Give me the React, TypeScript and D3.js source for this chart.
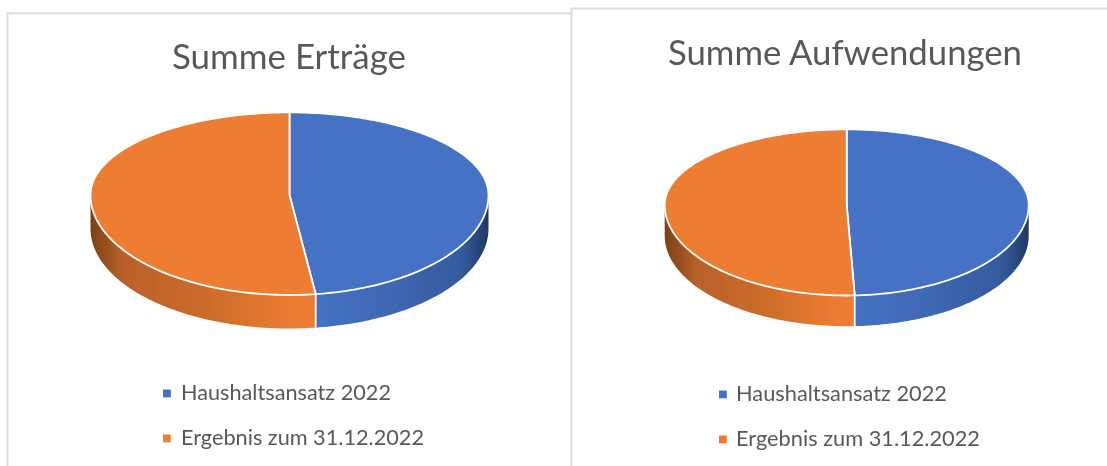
import React from "react";
import * as d3 from "d3";

const seriesLabels = ["Haushaltsansatz 2022", "Ergebnis zum 31.12.2022"];
const ertraegeValues = [47.9, 52.1];
const aufwendungenValues = [49.3, 50.7];
const titles = ["Summe Erträge", "Summe Aufwendungen"];

const BLUE = "#4472c4";
const ORANGE = "#ed7d31";
const TEXT = "#595959";
const FONT = "Lato, 'Open Sans', sans-serif";

type PieCfg = {
  id: string; title: string; values: number[];
  cx: number; cy: number; rx: number; ryTop: number; ryBottom: number; depth: number;
  titleX: number; titleY: number; titleW: number;
  markerX: number; textX: number; legendY: number[]; legendW: number[];
};

const panels: PieCfg[] = [
  { id: "a", title: titles[0], values: ertraegeValues, cx: 289.5, cy: 195, rx: 199, ryTop: 82.6, ryBottom: 100, depth: 33.5,
    titleX: 172, titleY: 69, titleW: 234, markerX: 163, textX: 181, legendY: [400, 445], legendW: [210, 243] },
  { id: "b", title: titles[1], values: aufwendungenValues, cx: 846.7, cy: 205, rx: 182, ryTop: 75.6, ryBottom: 90.5, depth: 30.7,
    titleX: 668, titleY: 64.5, titleW: 354, markerX: 719, textX: 736, legendY: [401, 446], legendW: [211, 244] },
];

function Pie3D({ p }: { p: PieCfg }) {
  const arcs = d3.pie<number>().sort(null)(p.values);
  const pt = (a: number): [number, number] => {
    const c = Math.cos(a);
    return [p.cx + p.rx * Math.sin(a), p.cy - (c > 0 ? p.ryTop : p.ryBottom) * c];
  };
  const samples = (a0: number, a1: number) => {
    const n = Math.max(2, Math.ceil((a1 - a0) / 0.02));
    return d3.range(n + 1).map((i) => a0 + ((a1 - a0) * i) / n);
  };
  const line = d3.line<[number, number]>();
  const top = (a0: number, a1: number) =>
    line([[p.cx, p.cy], ...samples(a0, a1).map(pt)]) + "Z";
  const wall = (a0: number, a1: number) => {
    const upper = samples(a0, a1).map(pt);
    const lower = upper.slice().reverse().map(([x, y]) => [x, y + p.depth] as [number, number]);
    return line([...upper, ...lower]) + "Z";
  };
  const colors = [BLUE, ORANGE];
  const split = pt(arcs[0].endAngle)[0];
  const left = p.cx - p.rx;
  const right = p.cx + p.rx;
  const frac = (x: number, a: number, b: number) => (x - a) / (b - a);

  return (
    <g>
      <defs>
        <linearGradient id={`blue-${p.id}`} gradientUnits="userSpaceOnUse" x1={split} x2={right} y1={0} y2={0}>
          <stop offset="0" stopColor="#4472c4" />
          <stop offset="0.5" stopColor="#3d66b0" />
          <stop offset="0.85" stopColor="#345a9b" />
          <stop offset="1" stopColor="#203864" />
        </linearGradient>
        <linearGradient id={`orange-${p.id}`} gradientUnits="userSpaceOnUse" x1={left} x2={split} y1={0} y2={0}>
          <stop offset="0" stopColor="#7c4015" />
          <stop offset={frac(left + 32, left, split)} stopColor="#b9602a" />
          <stop offset="0.5" stopColor="#cb6b2b" />
          <stop offset="0.92" stopColor="#ed7d31" />
          <stop offset="1" stopColor="#ed7d31" />
        </linearGradient>
      </defs>
      <path d={wall(Math.PI / 2, arcs[0].endAngle)} fill={`url(#blue-${p.id})`} />
      <path d={wall(arcs[1].startAngle, (3 * Math.PI) / 2)} fill={`url(#orange-${p.id})`} />
      <line x1={split} x2={split} y1={pt(arcs[0].endAngle)[1]} y2={pt(arcs[0].endAngle)[1] + p.depth} stroke="#fff" strokeWidth={1.8} />
      {arcs.map((d, i) => (
        <path key={i} d={top(d.startAngle, d.endAngle)} fill={colors[i]} stroke="#fff" strokeWidth={1.8} strokeLinejoin="round" />
      ))}
      <text x={p.titleX} y={p.titleY} fill={TEXT} fontFamily={FONT} fontSize={34}
        textLength={p.titleW} lengthAdjust="spacingAndGlyphs">{p.title}</text>
      {seriesLabels.map((s, i) => (
        <g key={s}>
          <rect x={p.markerX} y={p.legendY[i] - 10.5} width={7.8} height={7.8} fill={colors[i]} />
          <text x={p.textX} y={p.legendY[i]} fill={TEXT} fontFamily={FONT} fontSize={22}
            textLength={p.legendW[i]} lengthAdjust="spacingAndGlyphs">{s}</text>
        </g>
      ))}
    </g>
  );
}

export default function App() {
  const W = 1107, H = 466;
  return (
    <svg width={W} height={H} viewBox={`0 0 ${W} ${H}`}
      style={{ position: "absolute", left: 0, top: 0, background: "#fff", display: "block" }}>
      <defs>
        <filter id="soft" x="-2%" y="-2%" width="104%" height="104%">
          <feGaussianBlur stdDeviation="0.4" />
        </filter>
      </defs>
      <g filter="url(#soft)">
        <path d={`M7.5 ${H}V13.3H571`} fill="none" stroke="#dcdcdc" strokeWidth={2} />
        <path d={`M571.5 ${H}V8.5H${W}`} fill="none" stroke="#dcdcdc" strokeWidth={2} />
        {panels.map((p) => <Pie3D key={p.id} p={p} />)}
      </g>
    </svg>
  );
}
